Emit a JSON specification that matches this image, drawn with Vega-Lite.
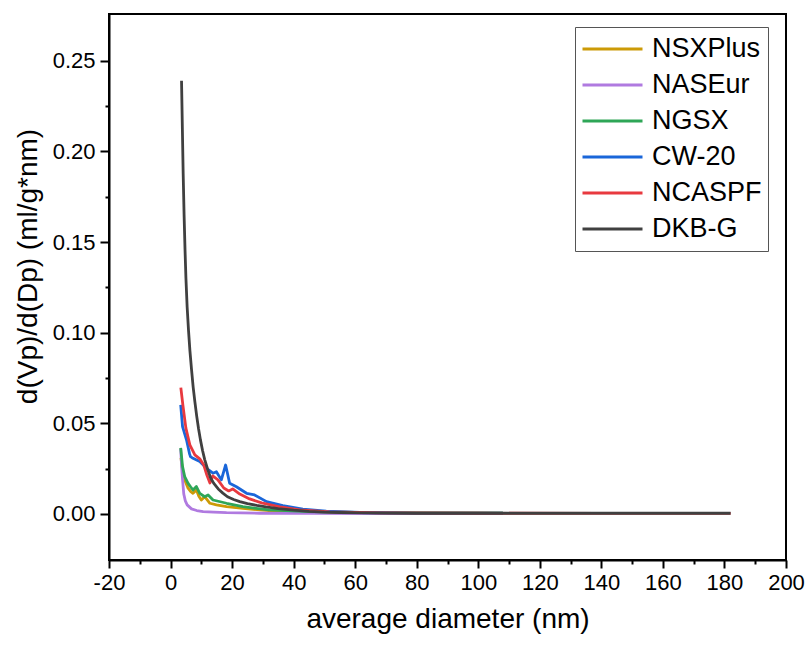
{
  "$schema": "https://vega.github.io/schema/vega-lite/v6.json",
  "width": 677,
  "height": 546,
  "autosize": {"type": "none"},
  "padding": {"left": 109, "top": 14, "right": 21, "bottom": 86},
  "background": "white",
  "config": {
    "font": "Liberation Sans",
    "view": {"stroke": "black", "strokeWidth": 2},
    "axis": {"labelFont": "Liberation Sans", "titleFont": "Liberation Sans", "labelColor": "black", "titleColor": "black", "domainColor": "black", "tickColor": "black", "titleFontWeight": "normal"}
  },
  "data": {
    "values": [
      {"s": "NSXPlus", "x": 3.4, "y": 0.031},
      {"s": "NSXPlus", "x": 3.6, "y": 0.028},
      {"s": "NSXPlus", "x": 4.1, "y": 0.022},
      {"s": "NSXPlus", "x": 4.6, "y": 0.0188},
      {"s": "NSXPlus", "x": 5.7, "y": 0.0142},
      {"s": "NSXPlus", "x": 6.5, "y": 0.0125},
      {"s": "NSXPlus", "x": 7.3, "y": 0.0114},
      {"s": "NSXPlus", "x": 8.4, "y": 0.0132},
      {"s": "NSXPlus", "x": 9.2, "y": 0.0098},
      {"s": "NSXPlus", "x": 10.0, "y": 0.0077},
      {"s": "NSXPlus", "x": 11.1, "y": 0.0095},
      {"s": "NSXPlus", "x": 12.8, "y": 0.0059},
      {"s": "NSXPlus", "x": 14.9, "y": 0.005},
      {"s": "NSXPlus", "x": 18.2, "y": 0.0041},
      {"s": "NSXPlus", "x": 23.5, "y": 0.0031},
      {"s": "NSXPlus", "x": 32, "y": 0.0018},
      {"s": "NSXPlus", "x": 45, "y": 0.0010},
      {"s": "NSXPlus", "x": 60, "y": 0.0007},
      {"s": "NSXPlus", "x": 80, "y": 0.0005},
      {"s": "NSXPlus", "x": 108, "y": 0.0004},

      {"s": "NASEur", "x": 3.3, "y": 0.036},
      {"s": "NASEur", "x": 3.57, "y": 0.027},
      {"s": "NASEur", "x": 3.9, "y": 0.019},
      {"s": "NASEur", "x": 4.3, "y": 0.0110},
      {"s": "NASEur", "x": 4.8, "y": 0.0072},
      {"s": "NASEur", "x": 5.4, "y": 0.0050},
      {"s": "NASEur", "x": 6.8, "y": 0.0028},
      {"s": "NASEur", "x": 8.5, "y": 0.0019},
      {"s": "NASEur", "x": 10.6, "y": 0.0013},
      {"s": "NASEur", "x": 14, "y": 0.0010},
      {"s": "NASEur", "x": 18.2, "y": 0.0007},
      {"s": "NASEur", "x": 29, "y": 0.0004},
      {"s": "NASEur", "x": 45, "y": 0.0003},
      {"s": "NASEur", "x": 70, "y": 0.0002},
      {"s": "NASEur", "x": 108, "y": 0.0002},

      {"s": "NGSX", "x": 3.3, "y": 0.0365},
      {"s": "NGSX", "x": 3.9, "y": 0.0261},
      {"s": "NGSX", "x": 4.6, "y": 0.0206},
      {"s": "NGSX", "x": 5.7, "y": 0.0169},
      {"s": "NGSX", "x": 6.5, "y": 0.0150},
      {"s": "NGSX", "x": 7.3, "y": 0.0132},
      {"s": "NGSX", "x": 8.4, "y": 0.0151},
      {"s": "NGSX", "x": 9.5, "y": 0.0114},
      {"s": "NGSX", "x": 11.1, "y": 0.0095},
      {"s": "NGSX", "x": 12.2, "y": 0.0105},
      {"s": "NGSX", "x": 13.8, "y": 0.0077},
      {"s": "NGSX", "x": 18.2, "y": 0.0059},
      {"s": "NGSX", "x": 23.5, "y": 0.0040},
      {"s": "NGSX", "x": 32, "y": 0.0022},
      {"s": "NGSX", "x": 45, "y": 0.0013},
      {"s": "NGSX", "x": 60, "y": 0.0008},
      {"s": "NGSX", "x": 80, "y": 0.0006},
      {"s": "NGSX", "x": 108, "y": 0.0005},

      {"s": "CW-20", "x": 3.3, "y": 0.0602},
      {"s": "CW-20", "x": 3.9, "y": 0.0482},
      {"s": "CW-20", "x": 5.2, "y": 0.0408},
      {"s": "CW-20", "x": 6.2, "y": 0.0330},
      {"s": "CW-20", "x": 6.5, "y": 0.0316},
      {"s": "CW-20", "x": 7.3, "y": 0.0307},
      {"s": "CW-20", "x": 9.5, "y": 0.0289},
      {"s": "CW-20", "x": 11.7, "y": 0.0252},
      {"s": "CW-20", "x": 13.8, "y": 0.0225},
      {"s": "CW-20", "x": 14.9, "y": 0.0233},
      {"s": "CW-20", "x": 16.5, "y": 0.0188},
      {"s": "CW-20", "x": 17.9, "y": 0.0270},
      {"s": "CW-20", "x": 19.2, "y": 0.0169},
      {"s": "CW-20", "x": 21.4, "y": 0.0150},
      {"s": "CW-20", "x": 24.7, "y": 0.0114},
      {"s": "CW-20", "x": 27.3, "y": 0.0105},
      {"s": "CW-20", "x": 31.2, "y": 0.0068},
      {"s": "CW-20", "x": 36.5, "y": 0.0046},
      {"s": "CW-20", "x": 43, "y": 0.0026},
      {"s": "CW-20", "x": 50.6, "y": 0.0015},
      {"s": "CW-20", "x": 61.5, "y": 0.0008},
      {"s": "CW-20", "x": 80, "y": 0.0005},
      {"s": "CW-20", "x": 108, "y": 0.0004},

      {"s": "NCASPF", "x": 3.34, "y": 0.0697},
      {"s": "NCASPF", "x": 4.0, "y": 0.0602},
      {"s": "NCASPF", "x": 4.97, "y": 0.0475},
      {"s": "NCASPF", "x": 6.27, "y": 0.0381},
      {"s": "NCASPF", "x": 7.9, "y": 0.0326},
      {"s": "NCASPF", "x": 9.5, "y": 0.0304},
      {"s": "NCASPF", "x": 10.8, "y": 0.027},
      {"s": "NCASPF", "x": 11.8, "y": 0.0215},
      {"s": "NCASPF", "x": 12.8, "y": 0.0171},
      {"s": "NCASPF", "x": 13.7, "y": 0.021},
      {"s": "NCASPF", "x": 15.4, "y": 0.0188},
      {"s": "NCASPF", "x": 17.3, "y": 0.0143},
      {"s": "NCASPF", "x": 18.9, "y": 0.0127},
      {"s": "NCASPF", "x": 20.2, "y": 0.0138},
      {"s": "NCASPF", "x": 22.5, "y": 0.011},
      {"s": "NCASPF", "x": 25.7, "y": 0.0083},
      {"s": "NCASPF", "x": 29.6, "y": 0.0061},
      {"s": "NCASPF", "x": 35.5, "y": 0.0039},
      {"s": "NCASPF", "x": 42, "y": 0.0022},
      {"s": "NCASPF", "x": 51.7, "y": 0.0011},
      {"s": "NCASPF", "x": 68, "y": 0.0006},
      {"s": "NCASPF", "x": 100, "y": 0.0004},
      {"s": "NCASPF", "x": 140, "y": 0.0003},
      {"s": "NCASPF", "x": 182, "y": 0.0003},

      {"s": "DKB-G", "x": 3.57, "y": 0.239},
      {"s": "DKB-G", "x": 3.85, "y": 0.212},
      {"s": "DKB-G", "x": 4.1, "y": 0.188},
      {"s": "DKB-G", "x": 4.4, "y": 0.165},
      {"s": "DKB-G", "x": 4.7, "y": 0.146},
      {"s": "DKB-G", "x": 5.0, "y": 0.130},
      {"s": "DKB-G", "x": 5.4, "y": 0.114},
      {"s": "DKB-G", "x": 5.85, "y": 0.101},
      {"s": "DKB-G", "x": 6.3, "y": 0.090},
      {"s": "DKB-G", "x": 6.8, "y": 0.080},
      {"s": "DKB-G", "x": 7.35, "y": 0.070},
      {"s": "DKB-G", "x": 7.9, "y": 0.062},
      {"s": "DKB-G", "x": 8.5, "y": 0.054},
      {"s": "DKB-G", "x": 9.1, "y": 0.047},
      {"s": "DKB-G", "x": 9.7, "y": 0.041},
      {"s": "DKB-G", "x": 10.4, "y": 0.035},
      {"s": "DKB-G", "x": 11.1, "y": 0.030},
      {"s": "DKB-G", "x": 12.0, "y": 0.025},
      {"s": "DKB-G", "x": 13.0, "y": 0.020},
      {"s": "DKB-G", "x": 14.0, "y": 0.017},
      {"s": "DKB-G", "x": 15.5, "y": 0.0138},
      {"s": "DKB-G", "x": 17.0, "y": 0.0115},
      {"s": "DKB-G", "x": 18.5, "y": 0.0095},
      {"s": "DKB-G", "x": 20.5, "y": 0.0080},
      {"s": "DKB-G", "x": 22.5, "y": 0.0068},
      {"s": "DKB-G", "x": 25, "y": 0.0057},
      {"s": "DKB-G", "x": 28, "y": 0.0047},
      {"s": "DKB-G", "x": 31, "y": 0.0039},
      {"s": "DKB-G", "x": 35, "y": 0.0030},
      {"s": "DKB-G", "x": 40, "y": 0.0021},
      {"s": "DKB-G", "x": 45, "y": 0.0014},
      {"s": "DKB-G", "x": 50, "y": 0.0010},
      {"s": "DKB-G", "x": 55, "y": 0.0008},
      {"s": "DKB-G", "x": 62, "y": 0.0006},
      {"s": "DKB-G", "x": 70, "y": 0.0005},
      {"s": "DKB-G", "x": 80, "y": 0.0004},
      {"s": "DKB-G", "x": 100, "y": 0.0004},
      {"s": "DKB-G", "x": 130, "y": 0.0004},
      {"s": "DKB-G", "x": 160, "y": 0.0004},
      {"s": "DKB-G", "x": 182, "y": 0.0004}
    ]
  },
  "mark": {"type": "line", "strokeWidth": 2.8, "strokeJoin": "round", "clip": true},
  "encoding": {
    "x": {
      "field": "x", "type": "quantitative",
      "scale": {"domain": [-20, 200], "nice": false, "zero": false},
      "axis": {
        "orient": "bottom",
        "values": [-20, -10, 0, 10, 20, 30, 40, 50, 60, 70, 80, 90, 100, 110, 120, 130, 140, 150, 160, 170, 180, 190, 200],
        "labelExpr": "datum.value % 20 === 0 ? replace(datum.label, '\u2212', '-') : ''",
        "title": "average diameter (nm)",
        "titleFontSize": 28, "titlePadding": 12,
        "labelFontSize": 22, "labelPadding": 4, "labelFlush": false,
        "tickSize": {"condition": {"test": "datum.value % 20 === 0", "value": 8}, "value": 4},
        "tickWidth": 2, "domainWidth": 2, "grid": false,
        "labelOverlap": false
      }
    },
    "y": {
      "field": "y", "type": "quantitative",
      "scale": {"domain": [-0.0254, 0.2758], "nice": false, "zero": false},
      "axis": {
        "orient": "left",
        "values": [0, 0.025, 0.05, 0.075, 0.1, 0.125, 0.15, 0.175, 0.2, 0.225, 0.25],
        "format": ".2f",
        "labelExpr": "abs(datum.value * 20 - round(datum.value * 20)) < 0.001 ? datum.label : ''",
        "title": "d(Vp)/d(Dp) (ml/g*nm)",
        "titleFontSize": 28, "titlePadding": 10, "titleY": 252,
        "labelFontSize": 22, "labelPadding": 5, "labelFlush": false,
        "tickSize": {"condition": {"test": "abs(datum.value * 20 - round(datum.value * 20)) < 0.001", "value": 9}, "value": 4},
        "tickWidth": 2, "domainWidth": 2, "grid": false,
        "labelOverlap": false
      }
    },
    "color": {
      "field": "s", "type": "nominal",
      "scale": {
        "domain": ["NSXPlus", "NASEur", "NGSX", "CW-20", "NCASPF", "DKB-G"],
        "range": ["#CC9A06", "#B07AE0", "#2EA657", "#1A66D9", "#E8393F", "#404040"]
      },
      "legend": {
        "title": null,
        "orient": "none",
        "legendX": 466,
        "legendY": 13,
        "symbolType": "stroke",
        "symbolSize": 3600,
        "symbolStrokeWidth": 3,
        "clipHeight": 32,
        "labelFontSize": 27,
        "labelFont": "Liberation Sans",
        "labelColor": "black",
        "labelOffset": 8,
        "rowPadding": 4,
        "padding": 6,
        "strokeColor": "#555555",
        "fillColor": "white"
      }
    }
  }
}
